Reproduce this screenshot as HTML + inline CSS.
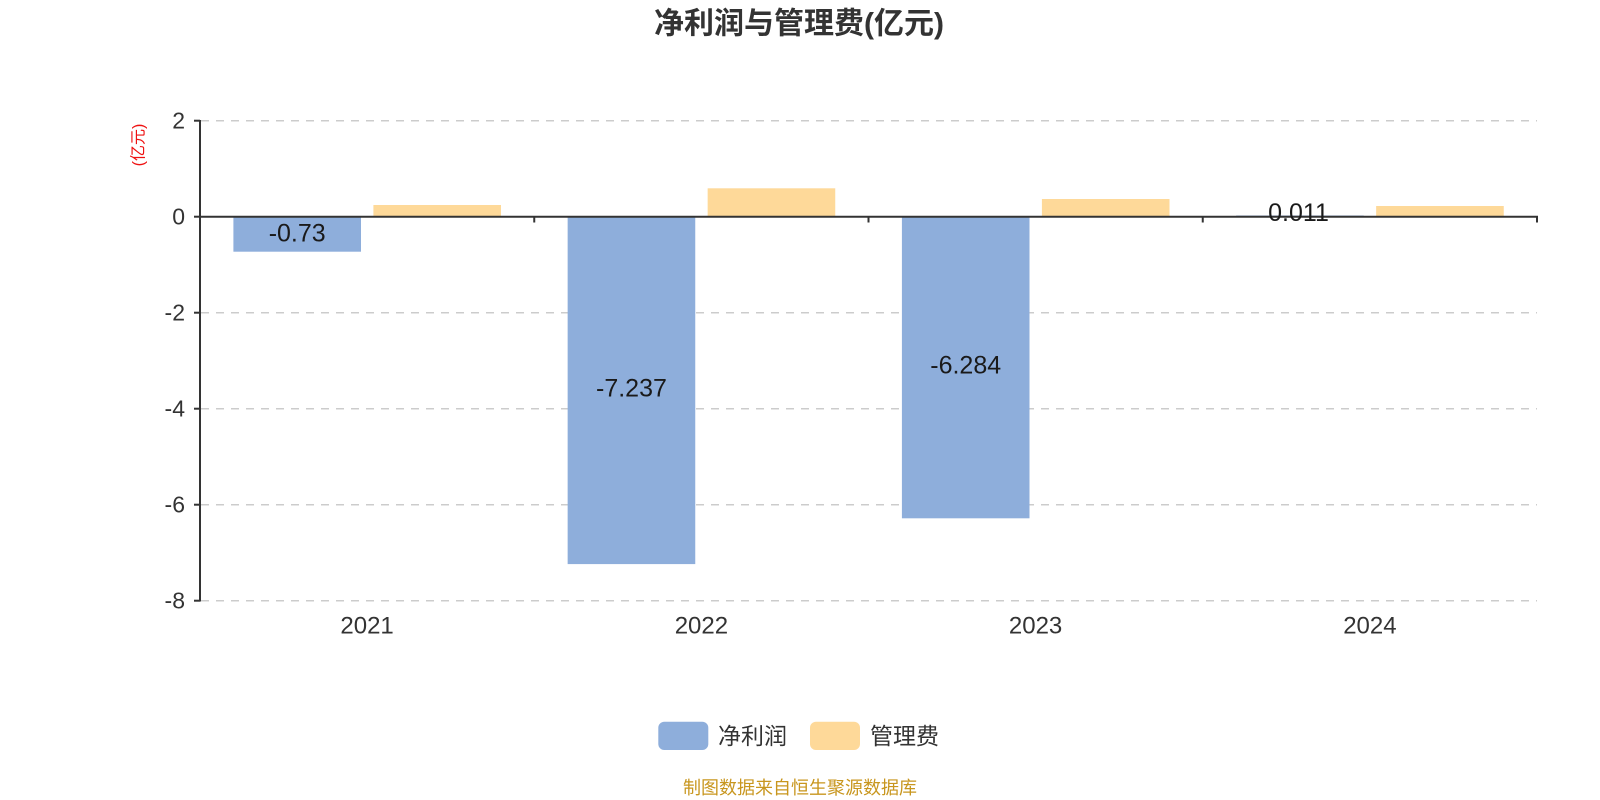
<!DOCTYPE html>
<html><head><meta charset="utf-8">
<style>
html,body{margin:0;padding:0;background:#fff;}
svg{display:block;}
text{font-family:"Liberation Sans","Noto Sans CJK SC",sans-serif;}
</style></head>
<body>
<svg width="1600" height="800" viewBox="0 0 1600 800" xmlns="http://www.w3.org/2000/svg">
<rect width="1600" height="800" fill="#fff"/>
<!-- title -->
<text x="799" y="24" text-anchor="middle" dominant-baseline="central" font-size="30" font-weight="bold" fill="#333">净利润与管理费(亿元)</text>
<!-- y axis title -->
<text transform="translate(139,145) rotate(-90)" text-anchor="middle" dominant-baseline="central" font-size="16" fill="#ee1111">(亿元)</text>
<!-- grid lines -->
<g stroke="#cccccc" stroke-width="1.5" stroke-dasharray="8,7" fill="none">
<line x1="201" y1="120.7" x2="1537" y2="120.7"/>
<line x1="201" y1="312.7" x2="1537" y2="312.7"/>
<line x1="201" y1="408.7" x2="1537" y2="408.7"/>
<line x1="201" y1="504.7" x2="1537" y2="504.7"/>
<line x1="201" y1="600.7" x2="1537" y2="600.7"/>
</g>
<!-- bars blue -->
<g fill="#8eaedb">
<rect x="233.4" y="216.7" width="127.6" height="35"/>
<rect x="567.65" y="216.7" width="127.6" height="347.4"/>
<rect x="901.9" y="216.7" width="127.6" height="301.6"/>
<rect x="1236.15" y="215.2" width="127.6" height="1.5" fill="#c9d6ea"/>
</g>
<!-- bars orange -->
<g fill="#fed999">
<rect x="373.4" y="205" width="127.6" height="11.7"/>
<rect x="707.65" y="188.3" width="127.6" height="28.4"/>
<rect x="1041.9" y="199" width="127.6" height="17.7"/>
<rect x="1376.15" y="206" width="127.6" height="10.7"/>
</g>
<!-- axes -->
<g stroke="#333" stroke-width="2" fill="none">
<line x1="200" y1="120" x2="200" y2="601.5"/>
<line x1="199" y1="216.7" x2="1538" y2="216.7"/>
<line x1="194" y1="120.7" x2="200" y2="120.7"/>
<line x1="194" y1="216.7" x2="200" y2="216.7"/>
<line x1="194" y1="312.7" x2="200" y2="312.7"/>
<line x1="194" y1="408.7" x2="200" y2="408.7"/>
<line x1="194" y1="504.7" x2="200" y2="504.7"/>
<line x1="194" y1="600.7" x2="200" y2="600.7"/>
<line x1="534.25" y1="216.7" x2="534.25" y2="222.5"/>
<line x1="868.5" y1="216.7" x2="868.5" y2="222.5"/>
<line x1="1202.75" y1="216.7" x2="1202.75" y2="222.5"/>
<line x1="1537" y1="216.7" x2="1537" y2="222.5"/>
</g>
<!-- y labels -->
<g font-size="23" fill="#333" text-anchor="end" dominant-baseline="central">
<text x="185" y="120.7">2</text>
<text x="185" y="216.7">0</text>
<text x="185" y="312.7">-2</text>
<text x="185" y="408.7">-4</text>
<text x="185" y="504.7">-6</text>
<text x="185" y="600.7">-8</text>
</g>
<!-- x labels -->
<g font-size="24" fill="#333" text-anchor="middle" dominant-baseline="central">
<text x="367.1" y="626">2021</text>
<text x="701.4" y="626">2022</text>
<text x="1035.6" y="626">2023</text>
<text x="1369.9" y="626">2024</text>
</g>
<!-- value labels -->
<g font-size="25" fill="#1a1a1a" text-anchor="middle" dominant-baseline="central">
<text x="297.2" y="233.5">-0.73</text>
<text x="631.45" y="388.5">-7.237</text>
<text x="965.7" y="365.5">-6.284</text>
<text x="1298.5" y="213">0.011</text>
</g>
<!-- legend -->
<rect x="658.3" y="721.7" width="50" height="28.3" rx="6" fill="#8eaedb"/>
<text x="718" y="736" font-size="23" fill="#333" dominant-baseline="central">净利润</text>
<rect x="810" y="721.7" width="50" height="28.3" rx="6" fill="#fed999"/>
<text x="870" y="736" font-size="23" fill="#333" dominant-baseline="central">管理费</text>
<!-- footer -->
<text x="800" y="788" font-size="18" fill="#c8961e" text-anchor="middle" dominant-baseline="central">制图数据来自恒生聚源数据库</text>
</svg>
</body></html>
